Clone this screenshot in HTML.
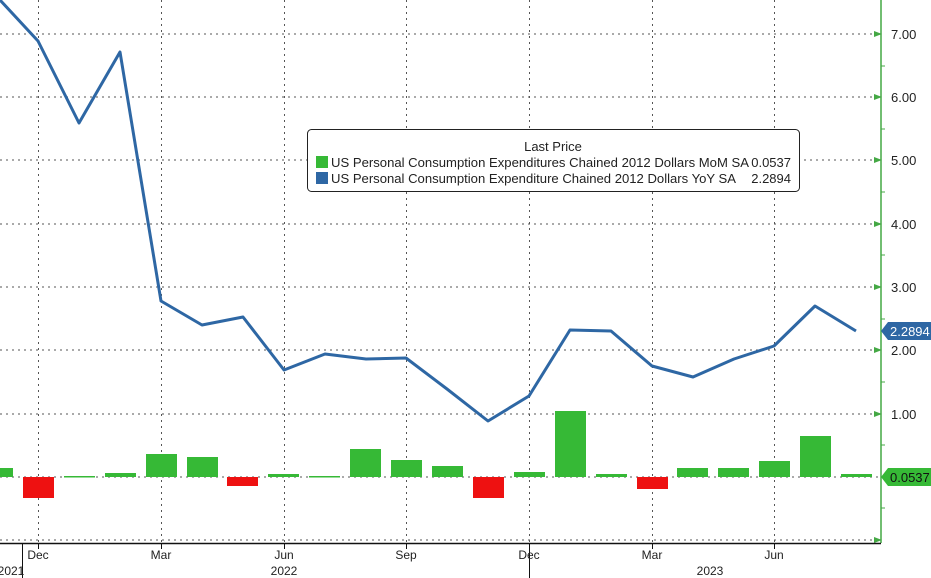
<!DOCTYPE html>
<html><head><meta charset="utf-8"><style>
html,body{margin:0;padding:0;background:#fff;}
svg{display:block;font-family:"Liberation Sans",sans-serif;}
</style></head><body>
<svg width="931" height="578" viewBox="0 0 931 578" xmlns="http://www.w3.org/2000/svg">
<rect width="931" height="578" fill="#fff"/>
<g stroke="#555" stroke-width="1" stroke-dasharray="2,4">
<line x1="0" y1="34" x2="880" y2="34"/>
<line x1="0" y1="97" x2="880" y2="97"/>
<line x1="0" y1="160" x2="880" y2="160"/>
<line x1="0" y1="224" x2="880" y2="224"/>
<line x1="0" y1="287" x2="880" y2="287"/>
<line x1="0" y1="350" x2="880" y2="350"/>
<line x1="0" y1="414" x2="880" y2="414"/>
<line x1="0" y1="477" x2="880" y2="477"/>
<line x1="0" y1="540" x2="880" y2="540"/>
<line x1="38.5" y1="0" x2="38.5" y2="543"/>
<line x1="161.5" y1="0" x2="161.5" y2="543"/>
<line x1="284.5" y1="0" x2="284.5" y2="543"/>
<line x1="406.5" y1="0" x2="406.5" y2="543"/>
<line x1="529.5" y1="0" x2="529.5" y2="543"/>
<line x1="652.5" y1="0" x2="652.5" y2="543"/>
<line x1="774.5" y1="0" x2="774.5" y2="543"/>
</g>
<g fill="#36b936">
<rect x="0" y="468" width="13" height="9"/>
<rect x="64" y="476" width="31" height="1.5"/>
<rect x="105" y="473" width="31" height="4"/>
<rect x="146" y="454" width="31" height="23"/>
<rect x="187" y="457" width="31" height="20"/>
<rect x="268" y="474" width="31" height="3"/>
<rect x="309" y="476" width="31" height="1.5"/>
<rect x="350" y="449" width="31" height="28"/>
<rect x="391" y="460" width="31" height="17"/>
<rect x="432" y="466" width="31" height="11"/>
<rect x="514" y="472" width="31" height="5"/>
<rect x="555" y="411" width="31" height="66"/>
<rect x="596" y="474" width="31" height="3"/>
<rect x="677" y="468" width="31" height="9"/>
<rect x="718" y="468" width="31" height="9"/>
<rect x="759" y="461" width="31" height="16"/>
<rect x="800" y="436" width="31" height="41"/>
<rect x="841" y="474" width="31" height="3"/>
</g>
<g fill="#ee1111">
<rect x="23" y="477" width="31" height="21"/>
<rect x="227" y="477" width="31" height="9"/>
<rect x="473" y="477" width="31" height="21"/>
<rect x="637" y="477" width="31" height="12"/>
</g>
<polyline fill="none" stroke="#2e67a4" stroke-width="3" stroke-linejoin="round"
points="0,0 38,41 79,123 120,52 161,301 202,325 243,317 284,370 325,354 366,359 406,358 447,389 488,421 529,396 570,330 611,331 652,366 693,377 734,359 774,346 815,306 856,331"/>
<line x1="881" y1="0" x2="881" y2="543" stroke="#44a844" stroke-width="1.5"/>
<g fill="#44a844">
<polygon points="874,31 882,34 874,37"/><polygon points="874,94 882,97 874,100"/>
<polygon points="874,157 882,160 874,163"/><polygon points="874,221 882,224 874,227"/>
<polygon points="874,284 882,287 874,290"/><polygon points="874,347 882,350 874,353"/>
<polygon points="874,411 882,414 874,417"/><polygon points="874,537 882,540 874,543"/>
</g>
<g stroke="#44a844"><line x1="881" y1="66" x2="885" y2="66"/><line x1="881" y1="129" x2="885" y2="129"/><line x1="881" y1="192" x2="885" y2="192"/><line x1="881" y1="255" x2="885" y2="255"/><line x1="881" y1="319" x2="885" y2="319"/><line x1="881" y1="382" x2="885" y2="382"/><line x1="881" y1="445" x2="885" y2="445"/><line x1="881" y1="508" x2="885" y2="508"/></g>
<g font-size="13" fill="#222">
<text x="891" y="39">7.00</text><text x="891" y="102">6.00</text><text x="891" y="165">5.00</text>
<text x="891" y="229">4.00</text><text x="891" y="292">3.00</text><text x="891" y="355">2.00</text>
<text x="891" y="419">1.00</text>
</g>
<polygon points="881,331 888,322 931,322 931,340 888,340" fill="#2e67a4"/>
<text x="890" y="336" font-size="13" fill="#fff">2.2894</text>
<polygon points="881,477 888,468 931,468 931,486 888,486" fill="#36b936"/>
<text x="890" y="482" font-size="13" fill="#111">0.0537</text>
<line x1="0" y1="543.5" x2="881" y2="543.5" stroke="#111" stroke-width="1.5"/>
<g stroke="#111">
<line x1="38.5" y1="543" x2="38.5" y2="549"/><line x1="161.5" y1="543" x2="161.5" y2="549"/>
<line x1="284.5" y1="543" x2="284.5" y2="549"/><line x1="406.5" y1="543" x2="406.5" y2="549"/>
<line x1="529.5" y1="543" x2="529.5" y2="549"/><line x1="652.5" y1="543" x2="652.5" y2="549"/>
<line x1="774.5" y1="543" x2="774.5" y2="549"/>
<line x1="22.5" y1="543" x2="22.5" y2="578"/><line x1="529.5" y1="549" x2="529.5" y2="578"/>
</g>
<g font-size="12" fill="#222" text-anchor="middle">
<text x="38" y="559">Dec</text><text x="161" y="559">Mar</text><text x="284" y="559">Jun</text>
<text x="406" y="559">Sep</text><text x="529" y="559">Dec</text><text x="652" y="559">Mar</text>
<text x="774" y="559">Jun</text>
<text x="11" y="575">2021</text><text x="284" y="575">2022</text><text x="710" y="575">2023</text>
</g>
<rect x="307.5" y="129.5" width="492" height="62" rx="4" fill="#fff" stroke="#222"/>
<text x="553" y="151" font-size="13" fill="#222" text-anchor="middle">Last Price</text>
<rect x="316" y="156" width="12" height="12" fill="#36b936"/>
<rect x="316" y="172" width="12" height="12" fill="#2e67a4"/>
<text x="331" y="167" font-size="13" fill="#222" textLength="418" lengthAdjust="spacingAndGlyphs">US Personal Consumption Expenditures Chained 2012 Dollars MoM SA</text>
<text x="791" y="167" font-size="13" fill="#222" text-anchor="end">0.0537</text>
<text x="331" y="183" font-size="13" fill="#222" textLength="405" lengthAdjust="spacingAndGlyphs">US Personal Consumption Expenditure Chained 2012 Dollars YoY SA</text>
<text x="791" y="183" font-size="13" fill="#222" text-anchor="end">2.2894</text>
</svg>
</body></html>
